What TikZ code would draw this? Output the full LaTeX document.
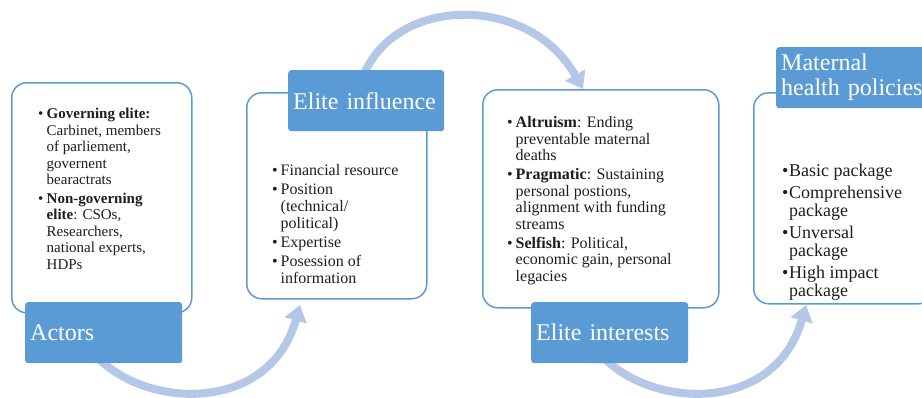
\documentclass[tikz,border=0pt]{standalone}
\usepackage{fontspec}
\setmainfont{Liberation Serif}
\usetikzlibrary{arrows.meta}
\definecolor{boxline}{RGB}{91,155,213}
\definecolor{labelfill}{RGB}{91,155,213}
\definecolor{arrowc}{RGB}{180,199,231}
\definecolor{txt}{RGB}{30,30,30}
\newcommand{\bul}{\makebox[8.5pt][l]{\textbullet}}
\newcommand{\ind}{\hspace*{8.5pt}}
\begin{document}
\begin{tikzpicture}[x=1pt,y=-1pt,
  outerbox/.style={draw=boxline, line width=1.5pt, rounded corners=15pt, fill=white, anchor=north west, inner sep=0pt},
  labelbox/.style={fill=labelfill, rounded corners=3pt, text=white, font=\fontsize{24}{25}\selectfont, align=left, inner xsep=5pt, inner ysep=0pt, minimum height=61pt, anchor=north west},
  flowarrow/.style={draw=arrowc, line width=8pt, -{Triangle[length=16pt,width=22pt]}},
  listtext/.style={anchor=north west, inner sep=0pt, align=left, text=txt}]
\useasboundingbox (0,0) rectangle (922,397);

% arrow end points
\coordinate (a1s) at (98,358);
\coordinate (a1e) at (300,305);
\coordinate (a2s) at (365,72);
\coordinate (a2e) at (583,89);
\coordinate (a3s) at (604,358);
\coordinate (a3e) at (806,305);

\draw[flowarrow] (a1s) .. controls (150,410) and (270,412) .. (a1e);
\draw[flowarrow] (a2s) .. controls (400,-5) and (530,-5) .. (a2e);
\draw[flowarrow] (a3s) .. controls (656,410) and (776,412) .. (a3e);

% outer boxes
\node[outerbox, minimum width=180pt, minimum height=230pt] (actbox) at (11,82) {};
\node[outerbox, minimum width=180pt, minimum height=206pt] (inflbox) at (246,92) {};
\node[outerbox, minimum width=236pt, minimum height=218pt] (intbox) at (482,89) {};
\node[outerbox, minimum width=180pt, minimum height=211pt] (polbox) at (753,92) {};

% labels
\node[labelbox, text width=147pt] (actlab) at (25,302) {Actors};
\node[labelbox, text width=146pt] (infllab) at (288,70) {Elite influence};
\node[labelbox, text width=147pt] (intlab) at (531,302) {Elite interests};
\node[labelbox, text width=147pt] (pollab) at (776,47) {Maternal\\health policies};

% list texts
\node[listtext, font=\fontsize{15}{16.5}\selectfont] (acttext) at (38,108) {%
\bul\textbf{Governing elite:}\\
\ind Carbinet, members\\
\ind of parliement,\\
\ind governent\\
\ind bearactrats\\[2pt]
\bul\textbf{Non-governing}\\
\ind\textbf{elite}: CSOs,\\
\ind Researchers,\\
\ind national experts,\\
\ind HDPs};

\node[listtext, font=\fontsize{16}{17}\selectfont] (infltext) at (272,164) {%
\bul Financial resource\\[2pt]
\bul Position\\
\ind(technical/\\
\ind political)\\[2pt]
\bul Expertise\\[2pt]
\bul Posession of\\
\ind information};

\node[listtext, font=\fontsize{16}{16.7}\selectfont] (inttext) at (507,116) {%
\bul\textbf{Altruism}: Ending\\
\ind preventable maternal\\
\ind deaths\\[2pt]
\bul\textbf{Pragmatic}: Sustaining\\
\ind personal postions,\\
\ind alignment with funding\\
\ind streams\\[2pt]
\bul\textbf{Selfish}: Political,\\
\ind economic gain, personal\\
\ind legacies};

\node[listtext, font=\fontsize{18}{18.5}\selectfont] (poltext) at (782,164) {%
\makebox[7pt][l]{\textbullet}Basic package\\[3pt]
\makebox[7pt][l]{\textbullet}Comprehensive\\
\hspace*{7pt}package\\[3pt]
\makebox[7pt][l]{\textbullet}Unversal\\
\hspace*{7pt}package\\[3pt]
\makebox[7pt][l]{\textbullet}High impact\\
\hspace*{7pt}package};
\end{tikzpicture}
\end{document}
